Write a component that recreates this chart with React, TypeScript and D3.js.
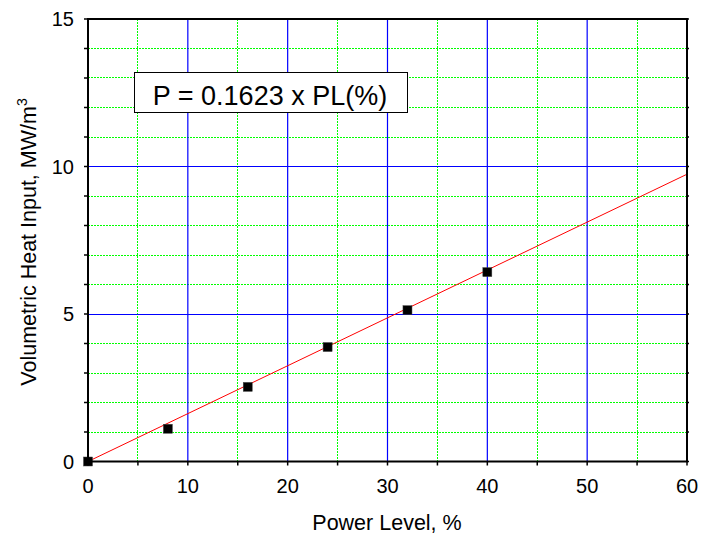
import React from "react";
import * as d3 from "d3";

const powerLevels = [0, 8, 16, 24, 32, 40];
const heatInputs = [0, 1.11, 2.53, 3.88, 5.13, 6.42];
const fitSlope = 0.1623;
const fitRange = [0, 60];
const xMajorTicks = [0, 10, 20, 30, 40, 50, 60];
const xMinorTicks = [5, 15, 25, 35, 45, 55];
const yMajorTicks = [0, 5, 10, 15];
const yMinorTicks = [1, 2, 3, 4, 6, 7, 8, 9, 11, 12, 13, 14];
const equationLabel = "P = 0.1623 x PL(%)";

const W = 703;
const H = 537;
const m = { left: 88, top: 19, right: 687, bottom: 461.5 };

// place a 1px line on a pixel centre so it renders crisp
const crisp = (v: number) => Math.floor(v) + 0.5;

export default function App() {
  const x = d3.scaleLinear().domain([0, 60]).range([m.left, m.right]);
  const y = d3.scaleLinear().domain([0, 15]).range([m.bottom, m.top]);
  const line = d3
    .line<number>()
    .x((d) => x(d))
    .y((d) => y(fitSlope * d));
  const font = "Arial, 'Liberation Sans', sans-serif";
  const green = "#00ff00";
  const blue = "#0000ff";
  const tl = 4;

  return (
    <svg
      width={W}
      height={H}
      style={{ position: "absolute", left: 0, top: 0 }}
      fontFamily={font}
    >
      <rect width={W} height={H} fill="#fff" />
      <defs>
        <clipPath id="plot">
          <rect x={m.left} y={m.top} width={m.right - m.left} height={m.bottom - m.top} />
        </clipPath>
      </defs>
      {/* minor grid */}
      {xMinorTicks.map((t) => (
        <line key={"xm" + t} x1={crisp(x(t))} x2={crisp(x(t))} y1={m.top} y2={m.bottom} stroke={green} strokeWidth={1} strokeDasharray="2,1" />
      ))}
      {yMinorTicks.map((t) => (
        <line key={"ym" + t} x1={m.left} x2={m.right} y1={crisp(y(t))} y2={crisp(y(t))} stroke={green} strokeWidth={1} strokeDasharray="2,1" />
      ))}
      {/* major grid */}
      {xMajorTicks.slice(1, -1).map((t) => (
        <line key={"xM" + t} x1={x(t)} x2={x(t)} y1={m.top} y2={m.bottom} stroke={blue} strokeWidth={1.2} />
      ))}
      {yMajorTicks.slice(1, -1).map((t) => (
        <line key={"yM" + t} x1={m.left} x2={m.right} y1={crisp(y(t))} y2={crisp(y(t))} stroke={blue} strokeWidth={1} />
      ))}
      {/* equation box */}
      <rect x={134.5} y={72.5} width={273} height={40} fill="#fff" stroke="#000" strokeWidth={1} />
      <text x={270} y={105} textAnchor="middle" fontSize={27} fill="#000">
        {equationLabel}
      </text>
      {/* fit line */}
      <g clipPath="url(#plot)">
        <path d={line(fitRange) || ""} fill="none" stroke="#ff0000" strokeWidth={1} />
      </g>
      {/* data markers */}
      {powerLevels.map((p, i) => (
        <rect
          key={"pt" + i}
          x={x(p) - 4.5}
          y={y(heatInputs[i]) - 4.5}
          width={9}
          height={9}
          fill="#000"
          stroke="#444"
          strokeWidth={0.5}
        />
      ))}
      {/* frame */}
      <rect x={m.left} y={m.top} width={m.right - m.left} height={m.bottom - m.top} fill="none" stroke="#000" strokeWidth={2} />
      {/* ticks */}
      {[...xMajorTicks, ...xMinorTicks].map((t) => (
        <line key={"xt" + t} x1={x(t)} x2={x(t)} y1={m.bottom} y2={m.bottom + tl} stroke="#000" strokeWidth={1.5} />
      ))}
      {[...yMajorTicks, ...yMinorTicks].map((t) => (
        <g key={"yt" + t}>
          <line x1={m.left - tl} x2={m.left} y1={y(t)} y2={y(t)} stroke="#000" strokeWidth={1.5} />
          <line x1={m.right} x2={m.right + 2} y1={y(t)} y2={y(t)} stroke="#000" strokeWidth={1.5} />
        </g>
      ))}
      {/* tick labels */}
      {xMajorTicks.map((t) => (
        <text key={"xl" + t} x={x(t)} y={493} textAnchor="middle" fontSize={20} fill="#000">
          {t}
        </text>
      ))}
      {yMajorTicks.map((t) => (
        <text key={"yl" + t} x={74} y={y(t) + 7} textAnchor="end" fontSize={20} fill="#000">
          {t}
        </text>
      ))}
      {/* axis titles */}
      <text x={387} y={530} textAnchor="middle" fontSize={21.5} fill="#000">
        Power Level, %
      </text>
      <text transform="translate(36,242) rotate(-90)" textAnchor="middle" fontSize={21.5} fill="#000">
        Volumetric Heat Input, MW/m
        <tspan dy={-9} fontSize={14}>3</tspan>
      </text>
    </svg>
  );
}
